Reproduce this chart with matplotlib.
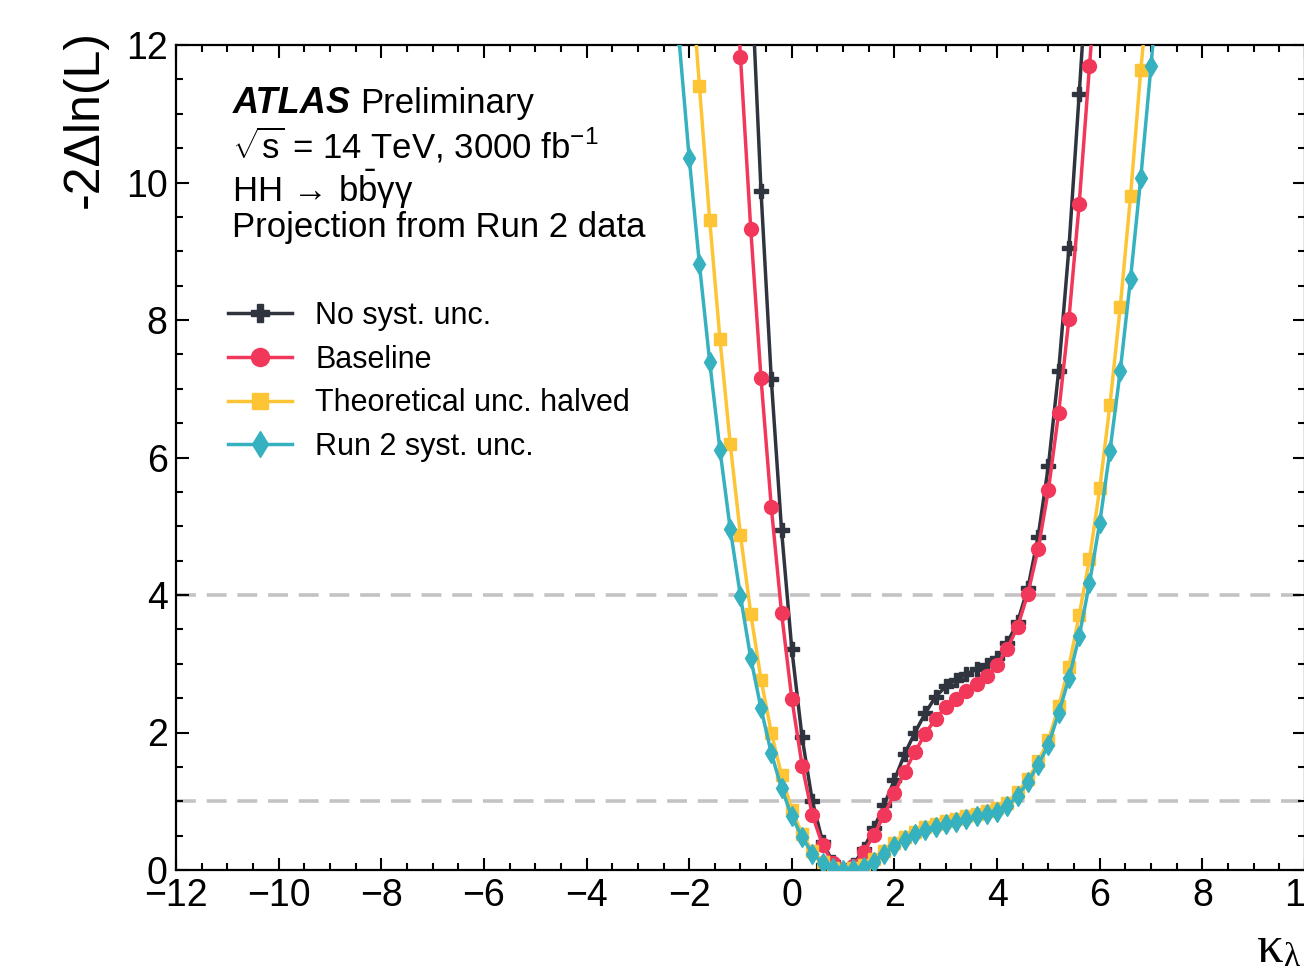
import matplotlib
matplotlib.use("Agg")
import matplotlib.pyplot as plt
import numpy as np

plt.rcParams['font.family'] = ['Liberation Sans', 'DejaVu Sans']
plt.rcParams['mathtext.fontset'] = 'custom'
plt.rcParams['mathtext.rm'] = 'Liberation Sans'
plt.rcParams['mathtext.it'] = 'Liberation Sans:italic'
plt.rcParams['mathtext.bf'] = 'Liberation Sans:bold'

nan = np.nan

# kappa_lambda scan points (step 0.2)
kappa = [-2.2, -2.0, -1.8, -1.6, -1.4, -1.2, -1.0, -0.8, -0.6, -0.4, -0.2,
         0.0, 0.2, 0.4, 0.6, 0.8, 1.0, 1.2, 1.4, 1.6, 1.8, 2.0, 2.2, 2.4,
         2.6, 2.8, 3.0, 3.2, 3.4, 3.6, 3.8, 4.0, 4.2, 4.4, 4.6, 4.8, 5.0,
         5.2, 5.4, 5.6, 5.8, 6.0, 6.2, 6.4, 6.6, 6.8, 7.0, 7.2]

no_syst = [nan, nan, nan, nan, nan, nan, nan, 13.2, 9.87, 7.14, 4.94,
           3.21, 1.93, 1.00, 0.41, 0.11, 0.0, 0.07, 0.31, 0.61, 0.95, 1.31, 1.69, 2.00,
           2.28, 2.52, 2.67, 2.77, 2.85, 2.92, 2.98, 3.09, 3.30, 3.61, 4.10, 4.85, 5.88,
           7.26, 9.05, 11.29, 13.6, nan, nan, nan, nan, nan, nan, nan]

baseline = [nan, nan, nan, nan, nan, 14.3, 11.82, 9.32, 7.15, 5.28, 3.74,
            2.49, 1.52, 0.80, 0.36, 0.10, 0.0, 0.06, 0.26, 0.51, 0.80, 1.12, 1.43, 1.72,
            1.98, 2.20, 2.37, 2.49, 2.61, 2.71, 2.82, 2.98, 3.22, 3.54, 4.02, 4.67, 5.53,
            6.65, 8.02, 9.69, 11.69, 13.6, nan, nan, nan, nan, nan, nan]

theo_halved = [nan, 13.4, 11.40, 9.45, 7.72, 6.20, 4.87, 3.73, 2.77, 2.00, 1.38,
               0.87, 0.53, 0.27, 0.11, 0.03, 0.0, 0.03, 0.08, 0.16, 0.28, 0.39, 0.48, 0.56,
               0.62, 0.67, 0.71, 0.74, 0.78, 0.82, 0.86, 0.90, 0.97, 1.13, 1.32, 1.58, 1.89,
               2.38, 2.96, 3.71, 4.52, 5.55, 6.77, 8.19, 9.80, 11.64, 13.2, nan]

run2_syst = [12.1, 10.36, 8.81, 7.39, 6.11, 4.96, 3.98, 3.08, 2.35, 1.70, 1.19,
             0.78, 0.48, 0.24, 0.10, 0.03, 0.0, 0.02, 0.05, 0.12, 0.24, 0.35, 0.44, 0.52,
             0.58, 0.63, 0.67, 0.70, 0.74, 0.78, 0.81, 0.85, 0.93, 1.08, 1.28, 1.53, 1.82,
             2.28, 2.79, 3.40, 4.17, 5.05, 6.10, 7.26, 8.60, 10.07, 11.70, 13.5]

series = [
    ("No syst. unc.", no_syst, '#30343f', 'P', 10),
    ("Baseline", baseline, '#f2385a', 'o', 10),
    ("Theoretical unc. halved", theo_halved, '#fdc536', 's', 9),
    ("Run 2 syst. unc.", run2_syst, '#36b1bf', 'd', 10),
]

fig = plt.figure(figsize=(13.04, 9.69), dpi=100)
ax = fig.add_axes([176 / 1304, 99 / 969, 1129 / 1304, 825 / 969])

ax.axhline(1, color='#c3c3c3', lw=2.6, ls=(0, (5.5, 3)), zorder=1)
ax.axhline(4, color='#c3c3c3', lw=2.6, ls=(0, (5.5, 3)), zorder=1)

for label, vals, col, mk, ms in series:
    ax.plot(kappa, vals, color=col, marker=mk, ms=ms, lw=2.5, label=label,
            zorder=3)

ax.set_xlim(-12, 10)
ax.set_ylim(0, 12)
ax.set_xticks(np.arange(-12, 11, 2))
ax.set_yticks(np.arange(0, 13, 2))
ax.xaxis.set_minor_locator(matplotlib.ticker.MultipleLocator(0.5))
ax.yaxis.set_minor_locator(matplotlib.ticker.MultipleLocator(0.5))
ax.tick_params(which='both', direction='in', top=True, right=True, width=1.5)
ax.tick_params(which='major', length=9, labelsize=27, pad=6)
ax.tick_params(which='minor', length=5)
for s in ax.spines.values():
    s.set_linewidth(1.6)

fig.text(85 / 1304, 1 - 30 / 969, '-2Δln(L)', rotation=90, ha='center', va='top',
         fontsize=36)
# kappa_lambda axis title, cut by the right edge like the original
fig.text(1257 / 1304, 1 - 962 / 969, 'κ', ha='left', va='baseline',
         fontsize=38, family='Liberation Serif')
fig.text(1283 / 1304, 1 - 966 / 969, 'λ', ha='left', va='baseline',
         fontsize=24, family='Liberation Serif')

ax.text(0.05, 0.918, 'ATLAS', transform=ax.transAxes, fontsize=26,
        fontweight='bold', style='italic', va='baseline')
ax.text(0.05 + 0.113, 0.918, 'Preliminary', transform=ax.transAxes, fontsize=25,
        va='baseline')
ax.text(0.05, 0.863, r'$\sqrt{\mathrm{s}}$ = 14 TeV, 3000 fb$^{-1}$',
        transform=ax.transAxes, fontsize=25, va='baseline')
ax.text(0.05, 0.810, r'HH$\,\rightarrow\,$b$\bar{\mathrm{b}}$γγ',
        transform=ax.transAxes, fontsize=25, va='baseline')
ax.text(0.05, 0.767, 'Projection from Run 2 data', transform=ax.transAxes,
        fontsize=25, va='baseline')

ax.legend(loc='upper left', bbox_to_anchor=(0.046, 0.69), frameon=False,
          fontsize=22, handlelength=2.1, handletextpad=0.75, labelspacing=0.45,
          markerscale=1.3, borderpad=0, borderaxespad=0)

fig.savefig('out.png', dpi=100)
